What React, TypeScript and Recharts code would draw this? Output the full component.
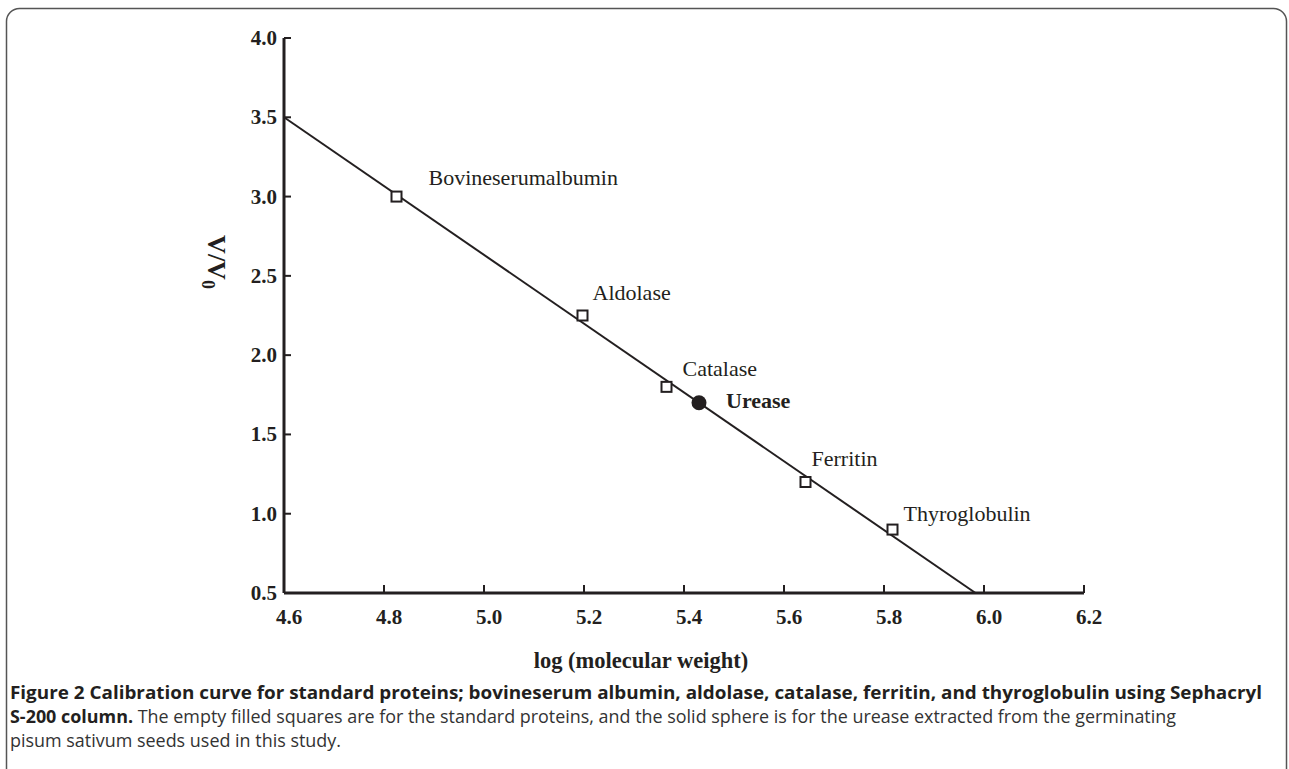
import React from "react";
import { ScatterChart, Scatter, XAxis, YAxis } from "recharts";

// standard proteins
const proteins = ["Bovineserumalbumin", "Aldolase", "Catalase", "Ferritin", "Thyroglobulin"];
const proteinLogMw = [4.825, 5.197, 5.365, 5.643, 5.817];
const proteinRatio = [3.0, 2.25, 1.8, 1.2, 0.9];

// urease from pisum sativum
const sampleName = ["Urease"];
const sampleLogMw = [5.43];
const sampleRatio = [1.7];

// fitted calibration line end points
const fitLogMw = [4.6, 5.983];
const fitRatio = [3.5, 0.5];

const xTicks = [4.6, 4.8, 5.0, 5.2, 5.4, 5.6, 5.8, 6.0, 6.2];
const yTicks = [0.5, 1.0, 1.5, 2.0, 2.5, 3.0, 3.5, 4.0];

const standards = proteins.map((name, i) => ({ name, x: proteinLogMw[i], y: proteinRatio[i] }));
const sample = sampleName.map((name, i) => ({ name, x: sampleLogMw[i], y: sampleRatio[i] }));
const fit = fitLogMw.map((x, i) => ({ x, y: fitRatio[i] }));

const INK = "#231f20";
const SERIF = "'Liberation Serif', 'Times New Roman', serif";
const SANS = "'Open Sans', 'Noto Sans', sans-serif";

// where each point's name sits relative to the marker
const labelShift: Record<string, [number, number]> = {
  Bovineserumalbumin: [32, -12],
  Aldolase: [10, -16],
  Catalase: [16, -11],
  Ferritin: [6, -16],
  Thyroglobulin: [11, -9],
  Urease: [27, 5],
};

function SquareMark({ cx, cy, payload }: any) {
  const [dx, dy] = labelShift[payload.name] || [10, -10];
  return (
    <g>
      <rect x={cx - 5} y={cy - 5} width={10} height={10} fill="#fff" stroke={INK} strokeWidth={2} />
      <text x={cx + dx} y={cy + dy} fontFamily={SERIF} fontSize={22} fill={INK}>
        {payload.name}
      </text>
    </g>
  );
}

function DotMark({ cx, cy, payload }: any) {
  const [dx, dy] = labelShift[payload.name] || [10, 5];
  return (
    <g>
      <circle cx={cx} cy={cy} r={7.5} fill={INK} />
      <text x={cx + dx} y={cy + dy} fontFamily={SERIF} fontSize={22} fontWeight="bold" fill={INK}>
        {payload.name}
      </text>
    </g>
  );
}

function XTick({ x, y, payload }: any) {
  return (
    <g>
      <line x1={x} x2={x} y1={y} y2={y - 8} stroke={INK} strokeWidth={2} />
      <text x={x + 5} y={y + 31} textAnchor="middle" fontFamily={SERIF} fontSize={21} fontWeight="bold" fill={INK}>
        {payload.value.toFixed(1)}
      </text>
    </g>
  );
}

function YTick({ x, y, payload }: any) {
  return (
    <g>
      <line x1={x} x2={x + 7} y1={y} y2={y} stroke={INK} strokeWidth={2} />
      <text x={x - 7} y={y + 7} textAnchor="end" fontFamily={SERIF} fontSize={21} fontWeight="bold" fill={INK}>
        {payload.value.toFixed(1)}
      </text>
    </g>
  );
}

export default function App() {
  return (
    <div style={{ position: "absolute", left: 0, top: 0, width: 1289, height: 769, background: "#fff", overflow: "hidden" }}>
      <ScatterChart width={1289} height={769} margin={{ top: 38, right: 205, bottom: 136, left: 224 }}>
        <XAxis
          type="number"
          dataKey="x"
          domain={[4.6, 6.2]}
          ticks={xTicks}
          height={40}
          tickSize={0}
          tickMargin={0}
          tickLine={false}
          tick={<XTick />}
          axisLine={{ stroke: INK, strokeWidth: 3 }}
          interval={0}
        />
        <YAxis
          type="number"
          dataKey="y"
          domain={[0.5, 4.0]}
          ticks={yTicks}
          width={60}
          tickSize={0}
          tickMargin={0}
          tickLine={false}
          tick={<YTick />}
          axisLine={{ stroke: INK, strokeWidth: 3 }}
          interval={0}
        />
        <Scatter
          data={fit}
          line={{ stroke: INK, strokeWidth: 2 }}
          shape={() => <g />}
          isAnimationActive={false}
        />
        <Scatter data={standards} shape={<SquareMark />} isAnimationActive={false} />
        <Scatter data={sample} shape={<DotMark />} isAnimationActive={false} />
      </ScatterChart>

      <svg width={1289} height={769} style={{ position: "absolute", left: 0, top: 0, pointerEvents: "none" }}>
        <rect x={6.5} y={8.5} width={1280} height={800} rx={13} fill="none" stroke="#555" strokeWidth={1.5} />
        <text
          transform="translate(208,262) rotate(90)"
          textAnchor="middle"
          fontFamily={SERIF}
          fontSize={26}
          fontWeight="bold"
          fill={INK}
        >
          V/V<tspan fontSize={18} dy={6}>0</tspan>
        </text>
        <text x={641} y={668} textAnchor="middle" fontFamily={SERIF} fontSize={22.5} fontWeight="bold" fill={INK}>
          log (molecular weight)
        </text>
        <text x={10} y={699} fontFamily={SANS} fontSize={18} fontWeight="bold" fill={INK} textLength={1252} lengthAdjust="spacingAndGlyphs">
          Figure 2 Calibration curve for standard proteins; bovineserum albumin, aldolase, catalase, ferritin, and thyroglobulin using Sephacryl
        </text>
        <text x={10} y={723} fontFamily={SANS} fontSize={18} fill="#333" textLength={1166} lengthAdjust="spacingAndGlyphs">
          <tspan fontWeight="bold" fill={INK}>S-200 column.</tspan> The empty filled squares are for the standard proteins, and the solid sphere is for the urease extracted from the germinating
        </text>
        <text x={10} y={747} fontFamily={SANS} fontSize={18} fill="#333" textLength={331} lengthAdjust="spacingAndGlyphs">
          pisum sativum seeds used in this study.
        </text>
      </svg>
    </div>
  );
}
